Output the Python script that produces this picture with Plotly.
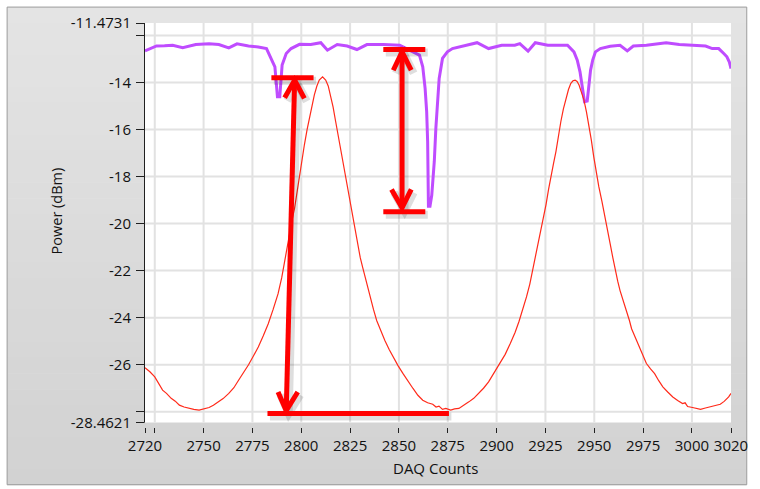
import plotly.graph_objects as go

# ---- data -------------------------------------------------------------
# Transmitted power (red trace)
red_counts = [
    2720, 2722.5, 2725, 2727, 2729, 2731, 2733.4, 2735.5, 2737.6, 2740,
    2742.7, 2745, 2747.7, 2750, 2752.8, 2755, 2757.8, 2760, 2762.9, 2765.5,
    2767.9, 2770.5, 2773, 2775.5, 2778, 2780.5, 2783.1, 2785.6, 2788.1, 2790,
    2791.5, 2793, 2794, 2795.4, 2796.6, 2798, 2799.1, 2800.4, 2801.6, 2803,
    2804.1, 2805.5, 2806.7, 2808, 2809.2, 2810.9, 2812.5, 2813.8, 2815, 2816.3,
    2817.6, 2818.8, 2820.1, 2821.4, 2822.6, 2824, 2825.2, 2826.5, 2827.7, 2829,
    2830.2, 2831.5, 2832.7, 2834, 2835.2, 2837, 2838.6, 2840.7, 2842.8, 2845,
    2847.1, 2849.6, 2852.1, 2854.7, 2857.2, 2859.7, 2862.2, 2864.7, 2867.3, 2869,
    2870.5, 2872.3, 2874, 2876.5, 2878.5, 2880.7, 2883.2, 2885.8, 2888.3, 2890.8,
    2893.3, 2895.9, 2898, 2900.1, 2902.2, 2904.4, 2907, 2909.5, 2911.5, 2913.5,
    2915.3, 2917, 2918.2, 2919.4, 2921.1, 2922.8, 2924, 2925.3, 2926.6, 2927.9,
    2929.2, 2930.4, 2931.6, 2932.9, 2934.2, 2935.5, 2936.8, 2938, 2939.1, 2940.2,
    2941.2, 2942.2, 2943.5, 2944.7, 2946, 2947.2, 2948.5, 2949.7, 2950.9, 2952.3,
    2953.9, 2955.7, 2957, 2958.2, 2959.5, 2960.7, 2962, 2963.2, 2965, 2966.6,
    2968, 2969.1, 2971.2, 2973.3, 2975, 2976.7, 2978.8, 2980.9, 2983, 2985.1,
    2987.6, 2990.2, 2992.7, 2995.2, 2996.5, 2997.8, 3000.3, 3002.3, 3004.4, 3006.9,
    3009.5, 3012, 3014.5, 3016.5, 3018.8, 3020,
]
red_power = [
    -26.13, -26.30, -26.52, -26.80, -27.08, -27.22, -27.43, -27.55, -27.72, -27.80,
    -27.86, -27.90, -27.93, -27.88, -27.82, -27.72, -27.58, -27.44, -27.22, -26.98,
    -26.66, -26.34, -26.00, -25.63, -25.25, -24.78, -24.26, -23.65, -22.99, -22.30,
    -21.58, -20.85, -20.32, -19.80, -19.33, -18.55, -17.92, -17.25, -16.65, -16.00,
    -15.52, -14.95, -14.53, -14.15, -13.90, -13.76, -13.90, -14.15, -14.53, -15.05,
    -15.66, -16.22, -16.79, -17.42, -18.06, -18.70, -19.19, -19.85, -20.46, -20.98,
    -21.45, -21.88, -22.29, -22.72, -23.14, -23.66, -24.12, -24.57, -24.97, -25.35,
    -25.68, -26.05, -26.38, -26.72, -27.01, -27.30, -27.51, -27.62, -27.68, -27.80,
    -27.76, -27.90, -27.86, -27.93, -27.88, -27.86, -27.74, -27.58, -27.43, -27.22,
    -27.00, -26.73, -26.45, -26.17, -25.88, -25.56, -25.10, -24.62, -24.15, -23.63,
    -23.12, -22.57, -22.08, -21.58, -20.95, -20.32, -19.75, -19.19, -18.55, -17.92,
    -17.42, -16.93, -16.28, -15.66, -15.12, -14.68, -14.30, -14.04, -13.93, -13.90,
    -13.96, -14.11, -14.40, -14.74, -15.25, -15.80, -16.45, -17.14, -17.80, -18.42,
    -19.05, -19.89, -20.40, -20.88, -21.45, -22.01, -22.45, -22.85, -23.30, -23.70,
    -24.12, -24.47, -24.88, -25.25, -25.62, -25.95, -26.18, -26.38, -26.68, -26.94,
    -27.16, -27.37, -27.52, -27.65, -27.62, -27.78, -27.82, -27.86, -27.90, -27.84,
    -27.79, -27.74, -27.68, -27.56, -27.37, -27.22,
]

# Reflected power with resonance dips (purple trace)
purple_counts = [
    2720, 2722.5, 2725.9, 2730, 2734.2, 2739.3, 2746, 2752.8, 2757.8, 2762.9,
    2767.1, 2773, 2778, 2782.2, 2784.7, 2786.5, 2787.3, 2787.8, 2789, 2789.5,
    2790.2, 2792.3, 2794.8, 2799.1, 2804.9, 2810, 2813.4, 2818.4, 2823.5, 2828.5,
    2833.6, 2842, 2850.4, 2857.2, 2860.5, 2862.2, 2863.4, 2864.2, 2864.7, 2865.1,
    2865.9, 2866.8, 2868.1, 2868.9, 2869.8, 2870.6, 2872.3, 2874.8, 2877.4, 2882.4,
    2890, 2895.9, 2902.6, 2909.3, 2911.9, 2916.1, 2919.8, 2926.2, 2932.9, 2936.3,
    2939.6, 2941.3, 2942.7, 2943.8, 2945, 2946.4, 2947.2, 2948.1, 2949.2, 2950.6,
    2953.1, 2958.2, 2963.2, 2966.9, 2970, 2976.7, 2986.8, 2993.5, 3000.3, 3007,
    3010.4, 3013.7, 3016.3, 3017.9, 3019.1, 3020,
]
purple_power = [
    -12.66, -12.56, -12.45, -12.44, -12.42, -12.52, -12.39, -12.36, -12.39, -12.53,
    -12.36, -12.45, -12.49, -12.56, -12.98, -13.34, -14.11, -14.61, -14.61, -14.11,
    -13.26, -12.77, -12.56, -12.38, -12.39, -12.31, -12.63, -12.39, -12.45, -12.60,
    -12.39, -12.39, -12.42, -12.70, -12.84, -13.34, -14.25, -15.24, -16.51, -19.26,
    -19.26, -18.80, -17.36, -15.95, -14.82, -13.83, -12.98, -12.70, -12.56, -12.45,
    -12.31, -12.56, -12.42, -12.42, -12.35, -12.67, -12.31, -12.42, -12.42, -12.42,
    -12.70, -13.05, -13.55, -14.25, -14.82, -14.79, -14.25, -13.48, -13.05, -12.70,
    -12.56, -12.46, -12.42, -12.66, -12.45, -12.42, -12.31, -12.39, -12.42, -12.45,
    -12.56, -12.56, -12.77, -12.91, -13.12, -13.41,
]

# Axis ticks
x_tickvals = [2720, 2725, 2750, 2775, 2800, 2825, 2850, 2875, 2900, 2925,
              2950, 2975, 3000, 3020]
x_ticktext = ["2720", "", "2750", "2775", "2800", "2825", "2850", "2875",
              "2900", "2925", "2950", "2975", "3000", "3020"]
y_tickvals = [-11.4731, -12, -14, -16, -18, -20, -22, -24, -26, -28, -28.4621]
y_ticktext = ["-11.4731", "", "-14", "-16", "-18", "-20", "-22", "-24",
              "-26", "", "-28.4621"]
x_grid = [2725, 2750, 2775, 2800, 2825, 2850, 2875, 2900, 2925, 2950, 2975, 3000]
y_grid = [-12, -14, -16, -18, -20, -22, -24, -26, -28]

X_MIN, X_MAX = 2720, 3020
Y_MIN, Y_MAX = -28.4621, -11.4731

# ---- figure geometry ---------------------------------------------------
W, H = 760, 489
M_L, M_R, M_T, M_B = 145, 20, 21, 62
PW, PH = W - M_L - M_R, H - M_T - M_B
PX_PER_UNIT = (422.6 - 21) / (Y_MAX - Y_MIN)
Y_AXIS_BOTTOM = Y_MAX - PH / PX_PER_UNIT   # leaves a small gap above x ticks


def px_x(px):
    return (px - M_L) / PW


def px_y(py):
    return (H - M_B - py) / PH


shapes = []

# gray panel with a soft vertical gradient
n_strip = 30
top_rgb, bot_rgb = (228, 228, 228), (210, 210, 210)
y0p, y1p = 5, 485
for i in range(n_strip):
    t = i / (n_strip - 1)
    c = tuple(round(a + (b - a) * t) for a, b in zip(top_rgb, bot_rgb))
    ya = y0p + (y1p - y0p) * i / n_strip
    yb = y0p + (y1p - y0p) * (i + 1) / n_strip + 0.6
    shapes.append(dict(type="rect", xref="paper", yref="paper", layer="below",
                       x0=px_x(5), x1=px_x(756), y0=px_y(yb), y1=px_y(ya),
                       fillcolor="rgb(%d,%d,%d)" % c, line_width=0))
shapes.append(dict(type="rect", xref="paper", yref="paper", layer="below",
                   x0=px_x(5), x1=px_x(756), y0=px_y(485), y1=px_y(5),
                   fillcolor="rgba(0,0,0,0)", line=dict(color="#9c9c9c", width=1)))

# white plotting area
shapes.append(dict(type="rect", xref="x", yref="y", layer="below",
                   x0=X_MIN, x1=X_MAX, y0=Y_MIN, y1=Y_MAX,
                   fillcolor="white", line_width=0))
# grid
for gx in x_grid:
    shapes.append(dict(type="line", xref="x", yref="y", layer="below",
                       x0=gx, x1=gx, y0=Y_MIN, y1=Y_MAX,
                       line=dict(color="#e2e2e2", width=2)))
for gy in y_grid:
    shapes.append(dict(type="line", xref="x", yref="y", layer="below",
                       x0=X_MIN, x1=X_MAX, y0=gy, y1=gy,
                       line=dict(color="#e2e2e2", width=2)))
# y axis line
shapes.append(dict(type="line", xref="paper", yref="y", layer="above",
                   x0=px_x(144.5), x1=px_x(144.5), y0=Y_MIN, y1=Y_MAX,
                   line=dict(color="#202020", width=1)))

# ---- red measurement arrows -------------------------------------------
ARROW_RED = "#ff0000"
# (start, end) segments in data units
arrow_paths = [
    # left: peak height of the red trace
    [(2784.7, -13.80), (2806.3, -13.80)],
    [(2782.7, -28.07), (2875.6, -28.07)],
    [(2796.6, -13.90), (2792.3, -27.95)],
    [(2791.5, -14.65), (2796.6, -13.90), (2801.6, -14.68)],
    [(2788.1, -27.16), (2792.3, -27.95), (2798.2, -27.16)],
    # right: dip depth of the purple trace
    [(2842.0, -12.60), (2863.5, -12.60)],
    [(2842.0, -19.50), (2863.5, -19.50)],
    [(2851.6, -12.70), (2851.6, -19.33)],
    [(2847.1, -13.48), (2851.6, -12.70), (2856.3, -13.48)],
    [(2846.2, -18.55), (2851.6, -19.33), (2856.3, -18.55)],
]


def svg_path(pts, dx=0.0, dy=0.0):
    return "M " + " L ".join("%g,%g" % (x + dx, y + dy) for x, y in pts)


shadow_dx = 2.5 / (PW / (X_MAX - X_MIN))
shadow_dy = -3.0 / PX_PER_UNIT
for pts in arrow_paths:
    shapes.append(dict(type="path", xref="x", yref="y", layer="above",
                       path=svg_path(pts, shadow_dx, shadow_dy),
                       line=dict(color="rgba(0,0,0,0.13)", width=8)))
for pts in arrow_paths:
    shapes.append(dict(type="path", xref="x", yref="y", layer="above",
                       path=svg_path(pts),
                       line=dict(color=ARROW_RED, width=5)))

# ---- traces -------------------------------------------------------------
fig = go.Figure()
fig.add_trace(go.Scatter(x=purple_counts, y=purple_power, mode="lines",
                         line=dict(color="#bf4cff", width=3), hoverinfo="skip"))
fig.add_trace(go.Scatter(x=red_counts, y=red_power, mode="lines",
                         line=dict(color="#ff2a1a", width=1.2), hoverinfo="skip"))

FONT = "Open Sans, Noto Sans, sans-serif"
fig.update_layout(
    width=W, height=H,
    margin=dict(l=M_L, r=M_R, t=M_T, b=M_B, pad=0),
    paper_bgcolor="white",
    plot_bgcolor="rgba(0,0,0,0)",
    showlegend=False,
    font=dict(family=FONT, size=15, color="#111111"),
    shapes=shapes,
    xaxis=dict(range=[X_MIN, X_MAX], tickmode="array", tickvals=x_tickvals,
               ticktext=x_ticktext, ticks="outside", ticklen=5, tickwidth=1,
               tickcolor="#202020", showgrid=False, zeroline=False,
               showline=False, ticklabelstandoff=0,
               tickfont=dict(family=FONT, size=15, color="#111111")),
    yaxis=dict(range=[Y_AXIS_BOTTOM, Y_MAX], tickmode="array",
               tickvals=y_tickvals, ticktext=y_ticktext, ticks="outside",
               ticklen=8, tickwidth=1, tickcolor="#202020", showgrid=False,
               zeroline=False, showline=False, ticklabelstandoff=2,
               tickfont=dict(family=FONT, size=15, color="#111111")),
    annotations=[
        dict(text="Power (dBm)", xref="paper", yref="paper",
             x=px_x(55), y=px_y(210), textangle=-90, showarrow=False,
             font=dict(family=FONT, size=14.5, color="#111111"),
             xanchor="center", yanchor="middle"),
        dict(text="DAQ Counts", xref="paper", yref="paper",
             x=px_x(440), y=px_y(468), showarrow=False,
             font=dict(family=FONT, size=15, color="#111111"),
             xanchor="center", yanchor="middle"),
    ],
)

fig.write_html("out.html")
